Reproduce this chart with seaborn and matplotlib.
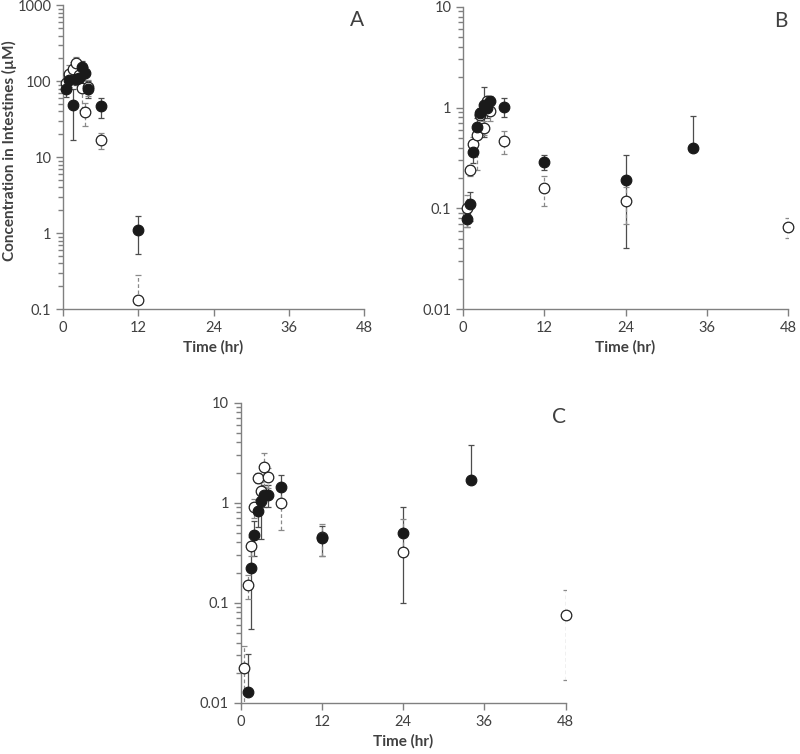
import numpy as np
import pandas as pd
import seaborn as sns
import matplotlib.pyplot as plt
from matplotlib.ticker import FixedLocator

# sampling times (hr)
times = [0.5, 1, 1.5, 2, 2.5, 3, 3.5, 4, 6, 12, 24, 34, 48]
nan = np.nan

# panel A (filled / open), mean and SD
a_filled    = [78, 103, 48, 108, 110, 155, 129, 80, 47, 1.1, nan, nan, nan]
a_filled_sd = [16, 20, 31, 20, 20, 30, 25, 20, 14, 0.57, nan, nan, nan]
a_open      = [95, 124, 147, 176, 120, 82, 39, 83, 17, 0.13, nan, nan, nan]
a_open_sd   = [20, 40, 30, 35, 30, 40, 13, 20, 4, 0.15, nan, nan, nan]

# panel B
b_filled    = [0.078, 0.11, 0.36, 0.64, 0.88, 1.06, 0.99, 1.15, 1.02, 0.29, 0.19, 0.40, nan]
b_filled_sd = [0.012, 0.035, 0.08, 0.15, 0.10, 0.55, 0.20, 0.15, 0.22, 0.05, 0.15, 0.43, nan]
b_open      = [0.10, 0.24, 0.44, 0.54, 0.85, 0.63, 1.15, 0.93, 0.47, 0.158, 0.117, nan, 0.066]
b_open_sd   = [0.035, 0.03, 0.07, 0.30, 0.10, 0.10, 0.15, 0.20, 0.12, 0.053, 0.047, nan, 0.015]

# panel C
c_filled    = [nan, 0.0128, 0.22, 0.47, 0.82, 1.05, 1.2, 1.2, 1.45, 0.44, 0.50, 1.69, nan]
c_filled_sd = [nan, 0.018, 0.165, 0.18, 0.25, 0.62, 0.3, 0.3, 0.45, 0.15, 0.40, 2.1, nan]
c_open      = [0.0224, 0.15, 0.37, 0.9, 1.77, 1.3, 2.28, 1.8, 1.0, 0.45, 0.32, nan, 0.076]
c_open_sd   = [0.0146, 0.04, 0.08, 0.2, 0.2, 0.3, 0.85, 0.4, 0.47, 0.16, 0.36, nan, 0.059]

sns.set_style("ticks")
plt.rcParams["font.family"] = ["Lato", "DejaVu Sans"]

GREY = "#808080"
TXT = "#404040"


def draw_panel(ax, filled, filled_sd, opened, opened_sd, ylim, letter):
    t = np.array(times, dtype=float)
    for y, sd, dashed in [(filled, filled_sd, False), (opened, opened_sd, True)]:
        y = np.array(y, dtype=float)
        sd = np.array(sd, dtype=float)
        lo = np.where(y - sd > 0, sd, 0)
        eb = ax.errorbar(t, y, yerr=[lo, sd], fmt="none",
                         ecolor="#8a8a8a" if dashed else "#4d4d4d",
                         elinewidth=0.9, capsize=2.5, capthick=0.9, zorder=1)
        if dashed:
            eb[2][0].set_linestyle((0, (3, 2)))
    df = pd.DataFrame({"t": times, "filled": filled, "open": opened})
    sns.scatterplot(data=df, x="t", y="open", ax=ax, s=58, marker="o",
                    facecolor="white", edgecolor="#222222", linewidth=0.9,
                    zorder=3, clip_on=False)
    sns.scatterplot(data=df, x="t", y="filled", ax=ax, s=58, marker="o",
                    color="#1a1a1a", edgecolor="#1a1a1a", linewidth=0.9,
                    zorder=4, clip_on=False)
    ax.set_yscale("log")
    ax.set_ylim(*ylim)
    ax.set_xlim(0, 48)
    ax.set_xticks([0, 12, 24, 36, 48])
    # minor ticks at 2..9 of every decade
    decades = np.arange(np.log10(ylim[0]), np.log10(ylim[1]))
    minors = [m * 10 ** d for d in decades for m in range(2, 10)]
    ax.yaxis.set_minor_locator(FixedLocator(minors))
    ax.yaxis.set_major_formatter(plt.FuncFormatter(lambda v, p: f"{v:g}"))
    ax.yaxis.set_minor_formatter(plt.NullFormatter())
    ax.set_xlabel("Time (hr)", fontsize=11, fontweight="bold", color=TXT)
    ax.set_ylabel("")
    for s in ["top", "right"]:
        ax.spines[s].set_visible(False)
    for s in ["left", "bottom"]:
        ax.spines[s].set_color(GREY)
        ax.spines[s].set_linewidth(1.0)
    ax.tick_params(which="major", length=5, width=1.0, color=GREY,
                   labelsize=10.5, labelcolor=TXT)
    ax.tick_params(axis="y", which="minor", length=3.5, width=1.0,
                   color=GREY, left=True)
    ax.tick_params(axis="x", which="minor", bottom=False)
    ax.text(1.0, 0.985, letter, transform=ax.transAxes, ha="right", va="top",
            fontsize=15, color=TXT)


fig = plt.figure(figsize=(8, 7.54), dpi=100)
ax_a = fig.add_axes([0.079, 0.590, 0.376, 0.403])
ax_b = fig.add_axes([0.579, 0.590, 0.406, 0.401])
ax_c = fig.add_axes([0.301, 0.068, 0.406, 0.398])

draw_panel(ax_a, a_filled, a_filled_sd, a_open, a_open_sd, (0.1, 1000), "A")
draw_panel(ax_b, b_filled, b_filled_sd, b_open, b_open_sd, (0.01, 10), "B")
draw_panel(ax_c, c_filled, c_filled_sd, c_open, c_open_sd, (0.01, 10), "C")

fig.text(0.012, 0.80, "Concentration in Intestines (\u00b5M)", fontsize=11,
         fontweight="bold", color=TXT, rotation=90, ha="center", va="center")

fig.savefig("out.png", dpi=100)
